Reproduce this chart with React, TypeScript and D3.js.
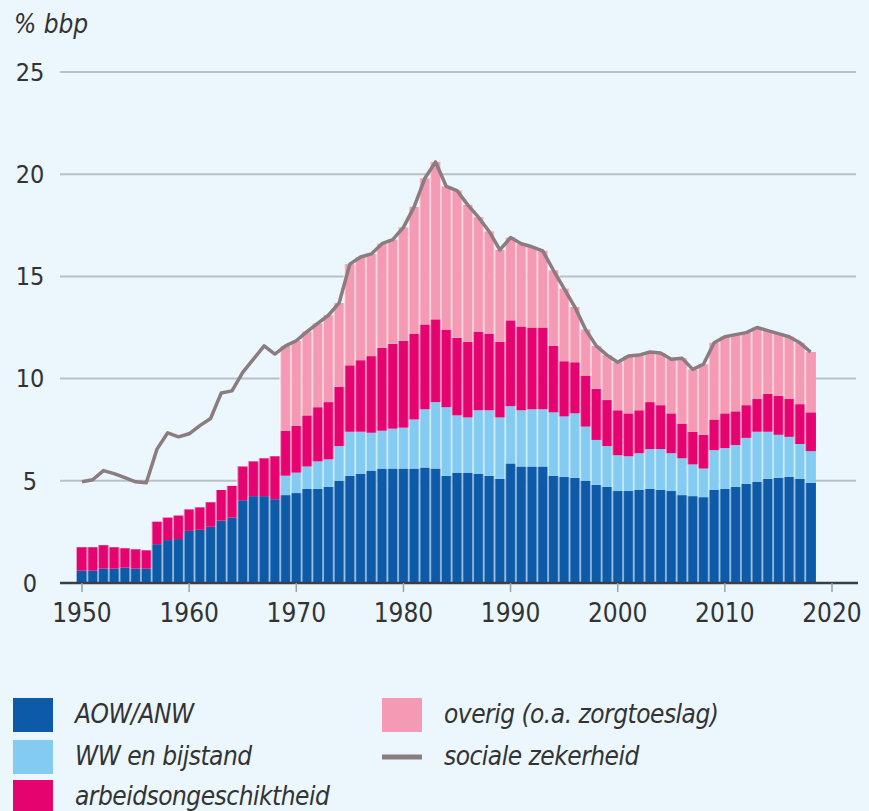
import React, { useEffect, useRef } from "react";
import * as d3 from "d3";

// jaren 1950 t/m 2018
const years = d3.range(1950, 2019);

// uitgaven als % bbp, per jaar
const aowAnw = [
  0.6, 0.6, 0.7, 0.7, 0.75, 0.7, 0.7, 1.9, 2.1, 2.15, 2.55, 2.6, 2.75, 3.05, 3.2, 4.05, 4.25, 4.25, 4.1,
  4.3, 4.4, 4.6, 4.6, 4.7, 5.0, 5.25, 5.35, 5.5, 5.6, 5.6,
  5.6, 5.6, 5.65, 5.6, 5.25, 5.4, 5.4, 5.35, 5.25, 5.1,
  5.85, 5.7, 5.7, 5.7, 5.25, 5.2, 5.15, 5.0, 4.8, 4.7,
  4.5, 4.5, 4.55, 4.6, 4.55, 4.5, 4.3, 4.25, 4.2, 4.55,
  4.6, 4.7, 4.85, 4.95, 5.1, 5.15, 5.2, 5.1, 4.9,
];
const wwBijstand = [
  0, 0, 0, 0, 0, 0, 0, 0, 0, 0, 0, 0, 0, 0, 0, 0, 0, 0, 0,
  0.95, 1.0, 1.1, 1.35, 1.35, 1.7, 2.15, 2.05, 1.85, 1.85, 1.95,
  2.0, 2.4, 2.85, 3.25, 3.35, 2.8, 2.7, 3.1, 3.2, 3.0,
  2.8, 2.75, 2.8, 2.8, 3.1, 2.95, 3.15, 2.65, 2.2, 2.0,
  1.75, 1.7, 1.8, 1.95, 2.0, 1.85, 1.8, 1.55, 1.4, 1.95,
  2.0, 2.05, 2.25, 2.45, 2.3, 2.1, 1.95, 1.7, 1.55,
];
const arbeidsongeschiktheid = [
  1.15, 1.15, 1.15, 1.05, 0.95, 0.95, 0.9, 1.1, 1.1, 1.15, 1.05, 1.1, 1.2, 1.5, 1.55, 1.65, 1.7, 1.85, 2.1,
  2.2, 2.3, 2.5, 2.65, 2.8, 2.9, 3.25, 3.5, 3.75, 4.05, 4.15,
  4.25, 4.2, 4.15, 4.05, 3.8, 3.8, 3.7, 3.85, 3.75, 3.7,
  4.2, 4.1, 4.0, 4.0, 3.25, 2.7, 2.5, 2.5, 2.5, 2.25,
  2.2, 2.1, 2.1, 2.3, 2.15, 1.95, 1.7, 1.6, 1.65, 1.5,
  1.7, 1.65, 1.6, 1.6, 1.85, 1.9, 1.85, 1.95, 1.9,
];
const overig = [
  0, 0, 0, 0, 0, 0, 0, 0, 0, 0, 0, 0, 0, 0, 0, 0, 0, 0, 0,
  4.15, 4.15, 4.1, 4.1, 4.25, 4.1, 4.95, 5.05, 5.0, 5.1, 5.1,
  5.55, 6.2, 7.15, 7.7, 7.0, 7.2, 6.7, 5.6, 5.0, 4.5,
  4.05, 4.05, 3.95, 3.75, 3.7, 3.55, 2.7, 2.25, 2.1, 2.2,
  2.35, 2.8, 2.7, 2.45, 2.55, 2.65, 3.2, 3.05, 3.45, 3.75,
  3.75, 3.75, 3.55, 3.5, 3.1, 3.05, 3.05, 3.0, 2.95,
];
const socialeZekerheid = [
  4.95, 5.05, 5.5, 5.35, 5.15, 4.95, 4.9, 6.55, 7.35, 7.15, 7.3, 7.7, 8.05, 9.3, 9.4, 10.3, 10.95, 11.6, 11.2,
  11.6, 11.85, 12.3, 12.7, 13.1, 13.7, 15.6, 15.95, 16.1, 16.6, 16.8,
  17.4, 18.4, 19.8, 20.6, 19.4, 19.2, 18.5, 17.9, 17.2, 16.3,
  16.9, 16.6, 16.45, 16.25, 15.3, 14.4, 13.5, 12.4, 11.6, 11.15,
  10.8, 11.1, 11.15, 11.3, 11.25, 10.95, 11.0, 10.45, 10.7, 11.75,
  12.05, 12.15, 12.25, 12.5, 12.35, 12.2, 12.05, 11.75, 11.3,
];

const yTicks = [0, 5, 10, 15, 20, 25];
const xTicks = [1950, 1960, 1970, 1980, 1990, 2000, 2010, 2020];

const keys = ["aow", "ww", "ao", "overig"];
const labels = {
  aow: "AOW/ANW",
  ww: "WW en bijstand",
  ao: "arbeidsongeschiktheid",
  overig: "overig (o.a. zorgtoeslag)",
};
const colors = {
  aow: "#0d5ba8",
  ww: "#83cbf1",
  ao: "#e4036f",
  overig: "#f49ab4",
};
const lineColor = "#8a7c7f";
const bg = "#ebf6fd";
const font = "'Liberation Sans Narrow', 'DejaVu Sans Condensed', sans-serif";

export default function App() {
  const ref = useRef<HTMLDivElement>(null);

  useEffect(() => {
    const root = d3.select(ref.current);
    root.selectAll("*").remove();
    const width = 869;
    const height = 811;

    const svg = root
      .append("svg")
      .attr("width", width)
      .attr("height", height)
      .style("position", "absolute")
      .style("left", 0)
      .style("top", 0)
      .style("background", bg);

    const data = years.map((yr, i) => ({
      year: yr,
      aow: aowAnw[i],
      ww: wwBijstand[i],
      ao: arbeidsongeschiktheid[i],
      overig: overig[i],
    }));

    const x = d3.scaleLinear().domain([1950, 2020]).range([82, 832]);
    const y = d3.scaleLinear().domain([0, 25]).range([583, 72]);
    const step = x(1951) - x(1950);

    // gridlijnen
    svg
      .append("g")
      .selectAll("line")
      .data(yTicks.filter((d) => d > 0))
      .join("line")
      .attr("x1", 60)
      .attr("x2", 856)
      .attr("y1", (d) => y(d))
      .attr("y2", (d) => y(d))
      .attr("stroke", "#b9c0c6")
      .attr("stroke-width", 2);

    svg
      .append("g")
      .selectAll("text")
      .data(yTicks)
      .join("text")
      .attr("x", 30)
      .attr("y", (d) => y(d))
      .attr("dy", "0.35em")
      .attr("text-anchor", "middle")
      .style("font-family", font)
      .style("font-size", "25px")
      .style("fill", "#333")
      .text((d) => d);

    svg
      .append("text")
      .attr("x", 14)
      .attr("y", 33)
      .style("font-family", font)
      .style("font-size", "26px")
      .style("font-style", "italic")
      .style("fill", "#333")
      .text("% bbp");

    const stack = d3.stack().keys(keys)(data as any);

    svg
      .append("g")
      .selectAll("g")
      .data(stack)
      .join("g")
      .attr("fill", (s) => colors[s.key])
      .selectAll("rect")
      .data((s) => s)
      .join("rect")
      .attr("x", (d: any) => x(d.data.year) - step / 2)
      .attr("width", step)
      .attr("y", (d) => y(d[1]))
      .attr("height", (d) => y(d[0]) - y(d[1]));

    // lichte scheidingen tussen de staven
    svg
      .append("g")
      .selectAll("line")
      .data(years.slice(1))
      .join("line")
      .attr("x1", (d) => x(d) - step / 2)
      .attr("x2", (d) => x(d) - step / 2)
      .attr("y1", (d, i) => y(Math.max(d3.sum(stack, (s) => s[i + 1][1] - s[i + 1][0]), d3.sum(stack, (s) => s[i][1] - s[i][0]))))
      .attr("y2", y(0))
      .attr("stroke", "#ffffff")
      .attr("stroke-opacity", 0.5)
      .attr("stroke-width", 2);

    // x-as
    svg
      .append("line")
      .attr("x1", 60)
      .attr("x2", 858)
      .attr("y1", y(0))
      .attr("y2", y(0))
      .attr("stroke", "#3b3f44")
      .attr("stroke-width", 2.5);

    svg
      .append("g")
      .selectAll("line")
      .data(xTicks)
      .join("line")
      .attr("x1", (d) => x(d))
      .attr("x2", (d) => x(d))
      .attr("y1", y(0))
      .attr("y2", y(0) + 9)
      .attr("stroke", "#9aa1a7")
      .attr("stroke-width", 1.5);

    svg
      .append("g")
      .selectAll("text")
      .data(xTicks)
      .join("text")
      .attr("x", (d) => x(d))
      .attr("y", 622)
      .attr("text-anchor", "middle")
      .style("font-family", font)
      .style("font-size", "26px")
      .style("fill", "#333")
      .text((d) => d);

    const line = d3
      .line<number>()
      .x((d, i) => x(years[i]))
      .y((d) => y(d));

    svg
      .append("path")
      .datum(socialeZekerheid)
      .attr("d", line)
      .attr("fill", "none")
      .attr("stroke", lineColor)
      .attr("stroke-width", 3.5)
      .attr("stroke-linejoin", "round");

    // legenda
    const legend = svg.append("g");
    const items = [
      { key: "aow", col: 0, row: 0 },
      { key: "ww", col: 0, row: 1 },
      { key: "ao", col: 0, row: 2 },
      { key: "overig", col: 1, row: 0 },
    ];
    const colX = [13, 382];
    const rowY = [698, 740, 780];
    const legendText = (sel) =>
      sel
        .attr("dy", "0.35em")
        .style("font-family", font)
        .style("font-size", "26px")
        .style("letter-spacing", "-0.5px")
        .style("font-style", "italic")
        .style("fill", "#333");
    items.forEach((it) => {
      legend
        .append("rect")
        .attr("x", colX[it.col])
        .attr("y", rowY[it.row])
        .attr("width", 40)
        .attr("height", it.row === 2 ? 31 : 34)
        .attr("fill", colors[it.key]);
      legend
        .append("text")
        .attr("x", colX[it.col] + 62)
        .attr("y", rowY[it.row] + 16)
        .call(legendText)
        .text(labels[it.key]);
    });
    legend
      .append("line")
      .attr("x1", colX[1])
      .attr("x2", colX[1] + 40)
      .attr("y1", rowY[1] + 17)
      .attr("y2", rowY[1] + 17)
      .attr("stroke", lineColor)
      .attr("stroke-width", 5);
    legend
      .append("text")
      .attr("x", colX[1] + 62)
      .attr("y", rowY[1] + 16)
      .call(legendText)
      .text("sociale zekerheid");
  }, []);

  return <div ref={ref}></div>;
}
